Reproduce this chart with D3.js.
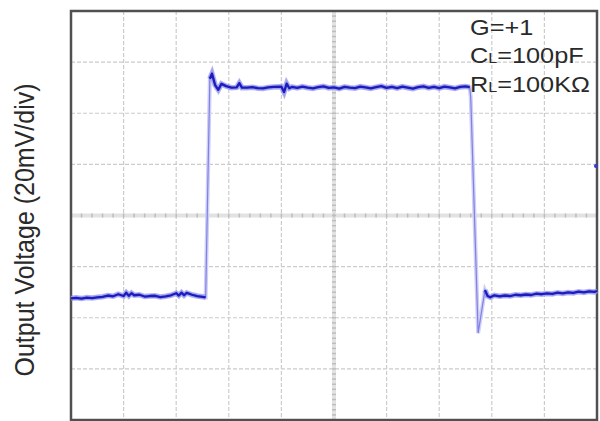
<!DOCTYPE html>
<html>
<head>
<meta charset="utf-8">
<script src="https://cdn.jsdelivr.net/npm/d3@7"></script>
<style>
  body { margin: 0; background: #fff; }
  svg { display: block; font-family: 'Liberation Sans', Arial, sans-serif; }
</style>
</head>
<body>
<svg id="chart" width="600" height="421"></svg>
<script>
// time in divisions, voltage in mV (20mV/div)
const xDivs = d3.range(0, 11)
const yDivs = [-80, -60, -40, -20, 0, 20, 40, 60, 80]

// flat part before the step
const lowT = [0, 0.1, 0.2, 0.3, 0.4, 0.5, 0.6, 0.7, 0.8, 0.9, 1.0, 1.05, 1.1, 1.15, 1.2, 1.3, 1.4, 1.5, 1.6, 1.7, 1.8, 1.9, 2.0, 2.05, 2.1, 2.15, 2.2, 2.3, 2.4, 2.5, 2.56]
const lowMv = [-32.4, -32.2, -32.5, -32.1, -32.3, -32.0, -31.8, -31.3, -31.6, -30.8, -31.5, -30.2, -31.4, -30.4, -31.2, -31.0, -31.7, -31.5, -31.4, -31.9, -31.6, -31.2, -30.4, -31.3, -30.2, -31.2, -30.3, -31.0, -31.5, -31.8, -32.0]

// top of the pulse
const highT = [2.64, 2.68, 2.74, 2.8, 2.86, 2.95, 3.05, 3.15, 3.2, 3.25, 3.35, 3.45, 3.55, 3.65, 3.75, 3.85, 4.0, 4.05, 4.1, 4.15,
  4.2, 4.3, 4.4, 4.5, 4.6, 4.7, 4.8, 4.9, 5.0, 5.1, 5.2, 5.3, 5.4, 5.5, 5.6, 5.7, 5.8, 5.9, 6.0, 6.1, 6.2, 6.3, 6.4, 6.5,
  6.6, 6.7, 6.8, 6.9, 7.0, 7.1, 7.2, 7.3, 7.4, 7.5, 7.58]
const highMv = [53.5, 55.5, 51.0, 49.2, 51.5, 50.6, 50.0, 50.1, 51.8, 50.0, 50.0, 50.2, 49.8, 49.7, 50.1, 50.3, 50.4, 48.3, 51.6, 49.8,
  50.3, 49.9, 50.4, 50.0, 49.7, 50.2, 50.5, 49.9, 50.1, 49.6, 50.3, 50.0, 49.8, 50.4, 50.1, 49.7, 50.2, 50.6, 49.9, 50.3, 49.8, 50.4,
  50.0, 49.6, 50.2, 50.5, 49.9, 50.3, 49.8, 50.4, 50.1, 49.7, 50.3, 50.5, 50.2]

// undershoot on the falling edge
const fallT = [7.6, 7.74]
const fallMv = [46.0, -46.0]

// settling after the step
const postT = [7.87, 7.92, 7.97, 8.05, 8.15, 8.25, 8.35, 8.45, 8.55, 8.65, 8.75, 8.85, 8.95, 9.05, 9.15, 9.25, 9.35, 9.45, 9.55, 9.65, 9.75, 9.85, 9.95, 10]
const postMv = [-29.2, -31.5, -32.0, -31.2, -31.6, -31.3, -31.5, -31.0, -31.2, -30.9, -31.1, -30.6, -30.8, -30.5, -30.7, -30.2, -30.5, -30.1, -30.3, -29.8, -30.1, -29.7, -29.9, -29.6]

// trigger level marker on the right edge
const markerT = 9.98
const markerMv = 19.4

const legendLines = [['G', '', '=+1'], ['C', 'L', '=100pF'], ['R', 'L', '=100KΩ']]
const yTitle = 'Output Voltage (20mV/div)'

const svg = d3.select('#chart')
const box = { left: 71, right: 597, top: 11, bottom: 420 }

const x = d3.scaleLinear().domain([0, 10]).range([box.left, box.right])
const y = d3.scaleLinear().domain([-80, 80]).range([box.bottom, box.top])

const pts = (ts, vs) => ts.map((t, i) => [t, vs[i]])
const low = pts(lowT, lowMv)
const high = pts(highT, highMv)
const fall = pts(fallT, fallMv)
const post = pts(postT, postMv)
const full = low.concat(high, fall, post)

// grid
const grid = svg.append('g').attr('class', 'grid')
grid.selectAll('.vline')
  .data(xDivs.filter((d) => d > 0 && d < 10 && d !== 5)).enter()
  .append('line')
  .attr('class', 'vline')
  .attr('x1', (d) => x(d)).attr('x2', (d) => x(d))
  .attr('y1', box.top).attr('y2', box.bottom)
  .attr('stroke', '#cccccc')
  .attr('stroke-width', 1.2)
  .attr('stroke-dasharray', '4,2')
grid.selectAll('.hline')
  .data(yDivs.filter((d) => d > -80 && d < 80 && d !== 0)).enter()
  .append('line')
  .attr('class', 'hline')
  .attr('y1', (d) => y(d)).attr('y2', (d) => y(d))
  .attr('x1', box.left).attr('x2', box.right)
  .attr('stroke', '#cccccc')
  .attr('stroke-width', 1.2)
  .attr('stroke-dasharray', '4,2')

// centre axes with minor ticks
grid.append('line')
  .attr('x1', x(5)).attr('x2', x(5)).attr('y1', box.top).attr('y2', box.bottom)
  .attr('stroke', '#e2e2e2').attr('stroke-width', 4)
grid.append('line')
  .attr('y1', y(0)).attr('y2', y(0)).attr('x1', box.left).attr('x2', box.right)
  .attr('stroke', '#e2e2e2').attr('stroke-width', 4)
grid.selectAll('.xminor')
  .data(d3.range(1, 50)).enter()
  .append('line')
  .attr('class', 'xminor')
  .attr('x1', (d) => x(d / 5)).attr('x2', (d) => x(d / 5))
  .attr('y1', y(0) - 2).attr('y2', y(0) + 2)
  .attr('stroke', '#bdbdbd').attr('stroke-width', 1.5)
grid.selectAll('.yminor')
  .data(d3.range(-39, 40)).enter()
  .append('line')
  .attr('class', 'yminor')
  .attr('y1', (d) => y(d * 2)).attr('y2', (d) => y(d * 2))
  .attr('x1', x(5) - 2).attr('x2', x(5) + 2)
  .attr('stroke', '#bdbdbd').attr('stroke-width', 1.5)

// frame
svg.append('rect')
  .attr('x', box.left).attr('y', box.top)
  .attr('width', box.right - box.left).attr('height', box.bottom - box.top)
  .attr('fill', 'none')
  .attr('stroke', '#505050')
  .attr('stroke-width', 2.5)

// trace
const line = d3.line().x((d) => x(d[0])).y((d) => y(d[1]))
const trace = svg.append('g').attr('class', 'trace')
trace.append('path')
  .attr('d', line(full))
  .attr('fill', 'none')
  .attr('stroke', '#d0d0f6')
  .attr('stroke-width', 4)
trace.append('path')
  .attr('d', line(full))
  .attr('fill', 'none')
  .attr('stroke', '#8080e6')
  .attr('stroke-width', 1.2)
trace.selectAll('.flat')
  .data([low, high, post]).enter()
  .append('path')
  .attr('class', 'flat')
  .attr('d', (d) => line(d))
  .attr('fill', 'none')
  .attr('stroke', '#7a7ae6')
  .attr('stroke-opacity', 0.55)
  .attr('stroke-width', 5.5)
trace.selectAll('.flat-core')
  .data([low, high, post]).enter()
  .append('path')
  .attr('class', 'flat-core')
  .attr('d', (d) => line(d))
  .attr('fill', 'none')
  .attr('stroke', '#1c1cbe')
  .attr('stroke-width', 2.3)
  .attr('stroke-linejoin', 'round')

svg.append('circle')
  .attr('cx', x(markerT)).attr('cy', y(markerMv))
  .attr('r', 2)
  .attr('fill', '#3a3ad0')

// legend
const legend = svg.append('g')
  .attr('class', 'legend')
  .attr('transform', 'translate(470,0) scale(1.15,1)')
legend.selectAll('text')
  .data(legendLines).enter()
  .append('text')
  .attr('x', 0)
  .attr('y', (d, i) => 35 + i * 28.5)
  .attr('font-size', 22)
  .attr('fill', '#2a2a2a')
  .each(function (d) {
    const t = d3.select(this)
    t.append('tspan').text(d[0])
    if (d[1]) t.append('tspan').attr('font-size', 14).text(d[1])
    t.append('tspan').text(d[2])
  })

// y title
svg.append('text')
  .attr('transform', 'translate(34,230) scale(1.12,1) rotate(-90)')
  .attr('text-anchor', 'middle')
  .attr('font-size', 25)
  .attr('fill', '#2a2a2a')
  .text(yTitle)
</script>
</body>
</html>
